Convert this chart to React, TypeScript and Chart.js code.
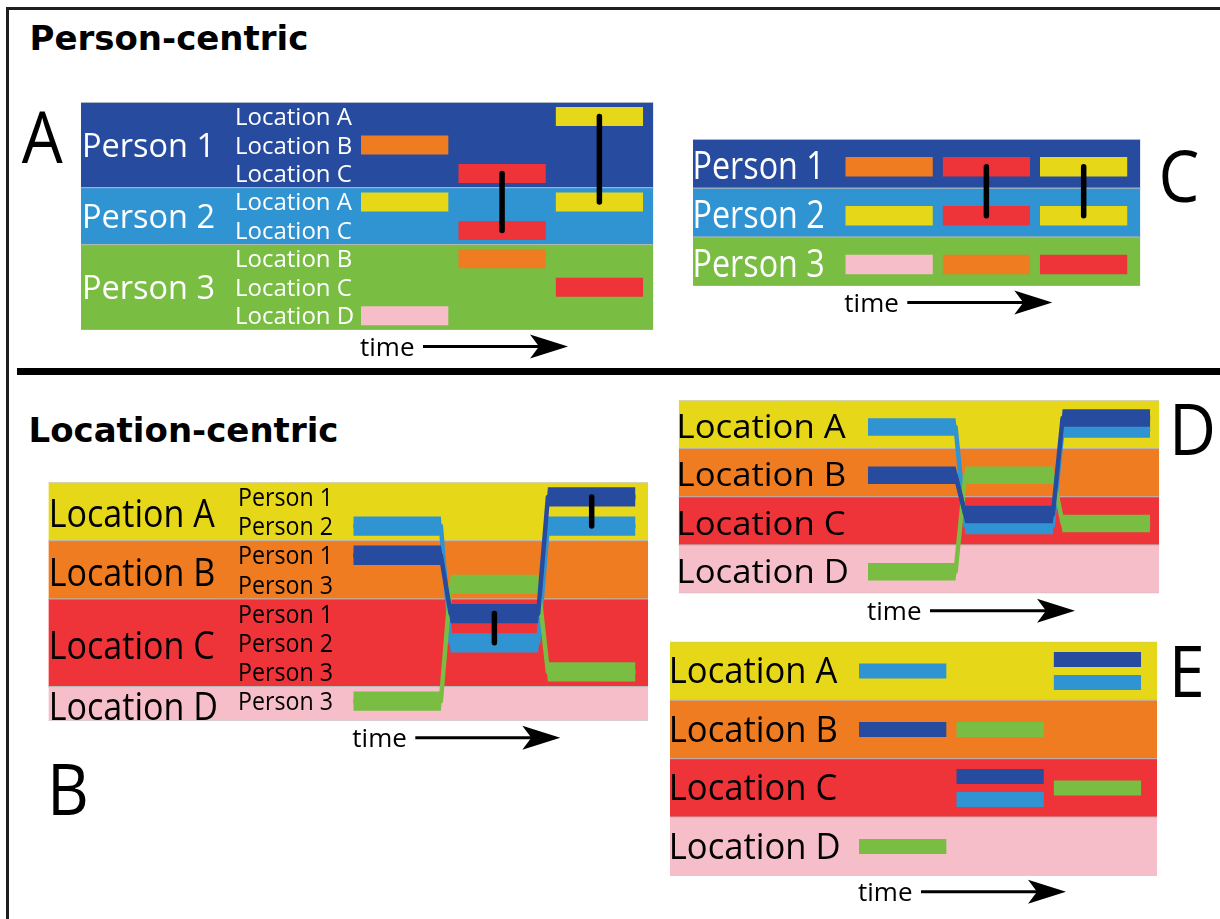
import React, { useEffect, useRef } from "react";
import { Chart, registerables } from "chart.js";

Chart.register(...registerables);

// ================= DATA =================
const persons = ["Person 1", "Person 2", "Person 3"];
const locations = ["Location A", "Location B", "Location C", "Location D"];
const timeSlots = [0, 1, 2];
// index into `locations` of the place each person is at, per time slot
const person1Route = [1, 2, 0]; // B, C, A
const person2Route = [0, 2, 0]; // A, C, A
const person3Route = [3, 1, 2]; // D, B, C
const routes = [person1Route, person2Route, person3Route];
const panelLetters = ["A", "B", "C", "D", "E"];
const sectionTitles = ["Person-centric", "Location-centric"];
const timeLabel = "time";

// ================= STYLE / LAYOUT =================
const W = 1220;
const H = 919;
const FONT = '"Open Sans", "Noto Sans", sans-serif';
const LABEL_WEIGHT = "500";
const CAP = 0.714;
const SLOT_PX = 97.3;
const SPAN = 0.9;
const personColors = ["#274b9e", "#3194d2", "#79bd43"];
const locationColors = ["#e6d819", "#f07c22", "#ee3439", "#f6bec8"];
const EDGE = "rgba(185,185,185,0.85)";
const CLEAR = "rgba(0,0,0,0)";
const personDrawOrder = [1, 2, 0];

type Box = { left: number; top: number; right: number; bottom: number; slot0: number };
const boxA: Box = { left: 81, top: 102.3, right: 653.5, bottom: 330, slot0: 361 };
const boxB: Box = { left: 48.3, top: 482.3, right: 648.3, bottom: 720.7, slot0: 353.3 };
const boxC: Box = { left: 693, top: 139.3, right: 1140.5, bottom: 286, slot0: 845.3 };
const boxD: Box = { left: 678.6, top: 400.3, right: 1159.3, bottom: 593.3, slot0: 868 };
const boxE: Box = { left: 670, top: 641.7, right: 1157, bottom: 875.7, slot0: 859 };

const xRange = (b: Box) => [-(b.slot0 - b.left) / SLOT_PX, (b.right - b.slot0) / SLOT_PX];

// ================= helpers =================
const ids = (n: number) => Array.from({ length: n }, (_, i) => i);
const visitedBy = (p: number) => Array.from(new Set(routes[p])).sort((a, b) => a - b);
const visitorsOf = (l: number) => ids(persons.length).filter((p) => routes[p].includes(l));
const together = (t: number, l: number) => ids(persons.length).filter((p) => routes[p][t] === l);
function meetings() {
  const out: { t: number; l: number; a: number; b: number }[] = [];
  timeSlots.forEach((t) =>
    locations.forEach((_, l) => {
      const g = together(t, l);
      for (let i = 0; i + 1 < g.length; i++) out.push({ t, l, a: g[i], b: g[i + 1] });
    })
  );
  return out;
}

class DS {
  list: any[] = [];
  push(d: any) {
    this.list.push({ pointRadius: 0, pointHoverRadius: 0, fill: false, tension: 0, ...d });
  }
  band(x0: number, x1: number, y0: number, y1: number, color: string) {
    this.push({ data: [{ x: x0, y: y0 }, { x: x1, y: y0 }], borderColor: EDGE, borderWidth: 1, backgroundColor: color, fill: "+1" });
    this.push({ data: [{ x: x0, y: y1 }, { x: x1, y: y1 }], borderColor: EDGE, borderWidth: 1 });
  }
  ribbon(pts: { x: number; y: number }[], half: number, color: string) {
    this.push({ data: pts.map((p) => ({ x: p.x, y: p.y - half })), borderColor: CLEAR, borderWidth: 0, backgroundColor: color, fill: "+1" });
    this.push({ data: pts.map((p) => ({ x: p.x, y: p.y + half })), borderColor: CLEAR, borderWidth: 0 });
  }
  line(pts: { x: number; y: number }[], color: string, width: number, cap = "butt") {
    this.push({ data: pts, borderColor: color, borderWidth: width, borderCapStyle: cap, borderJoinStyle: "round" });
  }
  done() {
    return this.list.map((d, i) => ({ ...d, order: -i }));
  }
}

function text(ctx: any, s: string, x: number, cy: number, size: number, color: string, o: any = {}) {
  const sx = o.sx ?? 1;
  const sy = o.sy ?? 1;
  ctx.save();
  ctx.font = `${o.weight ?? LABEL_WEIGHT} ${size}px ${FONT}`;
  ctx.fillStyle = color;
  ctx.textAlign = "left";
  ctx.textBaseline = "alphabetic";
  const dx = o.inkLeft ? ctx.measureText(s).actualBoundingBoxLeft : 0;
  ctx.translate(x + dx * sx, cy + (CAP * size * sy) / 2);
  ctx.scale(sx, sy);
  ctx.fillText(s, 0, 0);
  ctx.restore();
}

function letter(ctx: any, ch: string, inkLeft: number, capMid: number) {
  text(ctx, ch, inkLeft, capMid, 72, "#000", { sx: 0.9, inkLeft: true });
}

function timeArrow(ctx: any, x0: number, y: number) {
  ctx.save();
  ctx.font = `${LABEL_WEIGHT} 26px ${FONT}`;
  ctx.fillStyle = "#000";
  ctx.textAlign = "left";
  ctx.textBaseline = "alphabetic";
  ctx.fillText(timeLabel, x0 - 1, y + 9);
  ctx.strokeStyle = "#000";
  ctx.lineWidth = 3;
  ctx.beginPath();
  ctx.moveTo(x0 + 62, y);
  ctx.lineTo(x0 + 180, y);
  ctx.stroke();
  ctx.beginPath();
  ctx.moveTo(x0 + 207, y);
  ctx.lineTo(x0 + 169, y - 12);
  ctx.lineTo(x0 + 178, y);
  ctx.lineTo(x0 + 169, y + 12);
  ctx.closePath();
  ctx.fill();
  ctx.restore();
}

type Spec = { box: Box; yMax: number; datasets: any[]; overlay: (c: any) => void };

// ================= Panel A: person-centric, detailed =================
function buildA(): Spec {
  const box = boxA;
  const rows: { p: number; l: number }[] = [];
  const bands: { p: number; s: number; e: number }[] = [];
  persons.forEach((_, p) => {
    const s = rows.length;
    visitedBy(p).forEach((l) => rows.push({ p, l }));
    bands.push({ p, s, e: rows.length });
  });
  const yMax = rows.length;
  const ppu = (box.bottom - box.top) / yMax;
  const rowOf = (p: number, l: number) => rows.findIndex((r) => r.p === p && r.l === l);
  const [x0, x1] = xRange(box);
  const ds = new DS();
  bands.forEach((b) => ds.band(x0, x1, b.s, b.e, personColors[b.p]));
  persons.forEach((_, p) =>
    timeSlots.forEach((t) => {
      const l = routes[p][t];
      const y = rowOf(p, l) + 0.5;
      ds.ribbon([{ x: t, y }, { x: t + SPAN, y }], 9.5 / ppu, locationColors[l]);
    })
  );
  meetings().forEach((m) =>
    ds.line(
      [
        { x: m.t + SPAN / 2, y: rowOf(m.a, m.l) + 0.5 },
        { x: m.t + SPAN / 2, y: rowOf(m.b, m.l) + 0.5 },
      ],
      "#000",
      5.5,
      "round"
    )
  );
  return {
    box,
    yMax,
    datasets: ds.done(),
    overlay: (c) => {
      const { ctx, chartArea: ca, scales } = c;
      bands.forEach((b) =>
        text(ctx, persons[b.p], ca.left + 4, scales.y.getPixelForValue((b.s + b.e) / 2), 32.5, "#fff", { sy: 1.03, inkLeft: true })
      );
      rows.forEach((r, i) => text(ctx, locations[r.l], ca.left + 156, scales.y.getPixelForValue(i + 0.5), 24, "#fff", { inkLeft: true }));
      letter(ctx, panelLetters[0], ca.left - 59.3, ca.top + 35.2);
      timeArrow(ctx, scales.x.getPixelForValue(0), ca.bottom + 16.5);
    },
  };
}

// ================= Panel C: person-centric, compact =================
function buildC(): Spec {
  const box = boxC;
  const yMax = persons.length;
  const ppu = (box.bottom - box.top) / yMax;
  const off = 3 / ppu;
  const [x0, x1] = xRange(box);
  const ds = new DS();
  persons.forEach((_, p) => ds.band(x0, x1, p, p + 1, personColors[p]));
  persons.forEach((_, p) =>
    timeSlots.forEach((t) => {
      const l = routes[p][t];
      const y = p + 0.5 + off;
      ds.ribbon([{ x: t, y }, { x: t + SPAN, y }], 9.75 / ppu, locationColors[l]);
    })
  );
  meetings().forEach((m) =>
    ds.line(
      [
        { x: m.t + SPAN / 2, y: m.a + 0.5 + off },
        { x: m.t + SPAN / 2, y: m.b + 0.5 + off },
      ],
      "#000",
      5.5,
      "round"
    )
  );
  return {
    box,
    yMax,
    datasets: ds.done(),
    overlay: (c) => {
      const { ctx, chartArea: ca, scales } = c;
      persons.forEach((name, p) =>
        text(ctx, name, ca.left + 2.5, scales.y.getPixelForValue(p + 0.5) + 2, 32.3, "#fff", { sy: 1.16, inkLeft: true })
      );
      letter(ctx, panelLetters[2], ca.right + 21.5, ca.top + 37.4);
      timeArrow(ctx, scales.x.getPixelForValue(0), ca.bottom + 16.5);
    },
  };
}

// ================= Panel B: location-centric, detailed =================
function buildB(): Spec {
  const box = boxB;
  const rows: { l: number; p: number }[] = [];
  const bands: { l: number; s: number; e: number }[] = [];
  locations.forEach((_, l) => {
    const s = rows.length;
    visitorsOf(l).forEach((p) => rows.push({ l, p }));
    bands.push({ l, s, e: rows.length });
  });
  const yMax = rows.length + 0.17;
  bands[bands.length - 1].e = yMax;
  const ppu = (box.bottom - box.top) / yMax;
  const rowOf = (l: number, p: number) => rows.findIndex((r) => r.p === p && r.l === l);
  const [x0, x1] = xRange(box);
  const ds = new DS();
  bands.forEach((b) => ds.band(x0, x1, b.s, b.e, locationColors[b.l]));
  personDrawOrder.forEach((p) => {
    const pts = timeSlots.flatMap((t) => {
      const y = rowOf(routes[p][t], p) + 0.5;
      return [
        { x: t, y },
        { x: t + SPAN, y },
      ];
    });
    ds.ribbon(pts, 9.65 / ppu, personColors[p]);
    ds.line(pts, personColors[p], 4.5);
  });
  meetings().forEach((m) =>
    ds.line(
      [
        { x: m.t + SPAN / 2, y: rowOf(m.l, m.a) + 0.5 },
        { x: m.t + SPAN / 2, y: rowOf(m.l, m.b) + 0.5 },
      ],
      "#000",
      5.5,
      "round"
    )
  );
  return {
    box,
    yMax,
    datasets: ds.done(),
    overlay: (c) => {
      const { ctx, chartArea: ca, scales } = c;
      bands.forEach((b) =>
        text(ctx, locations[b.l], ca.left + 3.4, scales.y.getPixelForValue((b.s + b.e) / 2) + 2, 34.1, "#000", { sy: 1.15, inkLeft: true })
      );
      rows.forEach((r, i) =>
        text(ctx, persons[r.p], ca.left + 191.7, scales.y.getPixelForValue(i + 0.5), 23.2, "#000", { sy: 1.1, inkLeft: true })
      );
      letter(ctx, panelLetters[1], ca.left + 5, ca.bottom + 68.5);
      timeArrow(ctx, scales.x.getPixelForValue(0), ca.bottom + 17);
    },
  };
}

// ================= Panels D / E: location-centric, compact =================
function offsetPx(p: number, t: number, single: number, pair: number[]) {
  const g = together(t, routes[p][t]);
  if (g.length < 2) return single;
  return pair[Math.min(g.indexOf(p), pair.length - 1)];
}

function buildD(): Spec {
  const box = boxD;
  const yMax = locations.length;
  const ppu = (box.bottom - box.top) / yMax;
  const [x0, x1] = xRange(box);
  const ds = new DS();
  locations.forEach((_, l) => ds.band(x0, x1, l, l + 1, locationColors[l]));
  personDrawOrder.forEach((p) => {
    const pts = timeSlots.flatMap((t) => {
      const y = routes[p][t] + 0.5 + offsetPx(p, t, 2.5, [-6.5, 4.5]) / ppu;
      return [
        { x: t, y },
        { x: t + SPAN, y },
      ];
    });
    ds.ribbon(pts, 8.75 / ppu, personColors[p]);
    ds.line(pts, personColors[p], 4.5);
  });
  return {
    box,
    yMax,
    datasets: ds.done(),
    overlay: (c) => {
      const { ctx, chartArea: ca, scales } = c;
      locations.forEach((name, l) =>
        text(ctx, name, ca.left + 1, scales.y.getPixelForValue(l + 0.5) + 2, 34.7, "#000", { sy: 0.95, inkLeft: true })
      );
      letter(ctx, panelLetters[3], ca.right + 16, ca.top + 28.7);
      timeArrow(ctx, scales.x.getPixelForValue(0), ca.bottom + 17.4);
    },
  };
}

function buildE(): Spec {
  const box = boxE;
  const yMax = locations.length;
  const ppu = (box.bottom - box.top) / yMax;
  const [x0, x1] = xRange(box);
  const ds = new DS();
  locations.forEach((_, l) => ds.band(x0, x1, l, l + 1, locationColors[l]));
  personDrawOrder.forEach((p) =>
    timeSlots.forEach((t) => {
      const y = routes[p][t] + 0.5 + offsetPx(p, t, 0, [-11.5, 11.5]) / ppu;
      ds.ribbon([{ x: t, y }, { x: t + SPAN, y }], 7.5 / ppu, personColors[p]);
    })
  );
  return {
    box,
    yMax,
    datasets: ds.done(),
    overlay: (c) => {
      const { ctx, chartArea: ca, scales } = c;
      locations.forEach((name, l) =>
        text(ctx, name, ca.left + 1.8, scales.y.getPixelForValue(l + 0.5) - 1, 34.6, "#000", { sy: 1.08, inkLeft: true })
      );
      letter(ctx, panelLetters[4], ca.right + 18, ca.top + 29.2);
      timeArrow(ctx, scales.x.getPixelForValue(0), ca.bottom + 16);
    },
  };
}

function configOf(spec: Spec): any {
  const { box } = spec;
  const [xMin, xMax] = xRange(box);
  return {
    type: "line",
    data: { datasets: spec.datasets },
    options: {
      responsive: false,
      maintainAspectRatio: false,
      animation: false,
      events: [],
      layout: { padding: { left: box.left, top: box.top, right: W - box.right, bottom: H - box.bottom } },
      scales: {
        x: { type: "linear", min: xMin, max: xMax, display: false },
        y: { type: "linear", min: 0, max: spec.yMax, reverse: true, display: false },
      },
      plugins: { legend: { display: false }, tooltip: { enabled: false }, title: { display: false } },
      elements: { point: { radius: 0 }, line: { tension: 0 } },
    },
    plugins: [{ id: "overlay", afterDraw: (c: any) => spec.overlay(c) }],
  };
}

function Panel({ build }: { build: () => Spec }) {
  const ref = useRef<HTMLCanvasElement>(null);
  useEffect(() => {
    const chart = new Chart(ref.current as HTMLCanvasElement, configOf(build()));
    return () => chart.destroy();
  }, [build]);
  return <canvas ref={ref} width={W} height={H} style={{ position: "absolute", left: 0, top: 0, width: W, height: H }} />;
}

const titleStyle: any = {
  position: "absolute",
  font: 'bold 34px "DejaVu Sans", sans-serif',
  lineHeight: "34px",
  whiteSpace: "nowrap",
  color: "#000",
};

export default function App() {
  return (
    <div style={{ position: "absolute", left: 0, top: 0, width: W, height: H, background: "#fff", overflow: "hidden" }}>
      <div style={{ position: "absolute", left: 6, top: 6.7, width: W - 6, height: 3.3, background: "#1e1e1e" }} />
      <div style={{ position: "absolute", left: 6, top: 6.7, width: 3.3, height: H - 6.7, background: "#1e1e1e" }} />
      <div style={{ position: "absolute", left: 16.7, top: 368, width: W - 16.7, height: 7, background: "#000" }} />
      <div style={{ ...titleStyle, left: 29.5, top: 21 }}>{sectionTitles[0]}</div>
      <div style={{ ...titleStyle, left: 28.5, top: 412.9 }}>{sectionTitles[1]}</div>
      <Panel build={buildA} />
      <Panel build={buildC} />
      <Panel build={buildB} />
      <Panel build={buildD} />
      <Panel build={buildE} />
    </div>
  );
}
